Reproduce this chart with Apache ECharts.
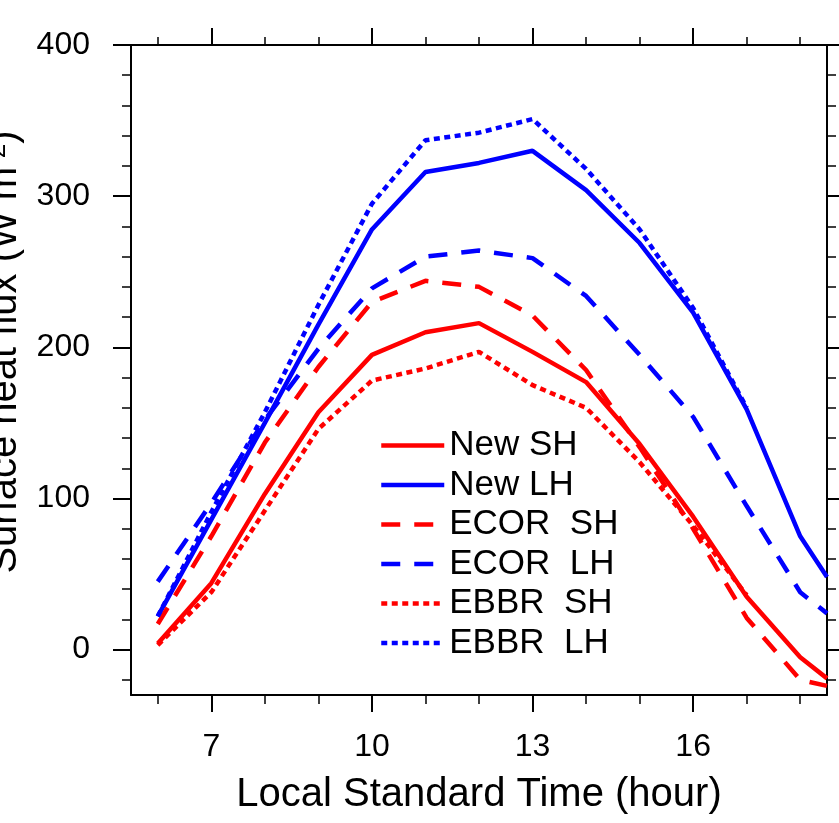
<!DOCTYPE html>
<html>
<head>
<meta charset="utf-8">
<script src="https://cdn.jsdelivr.net/npm/echarts@6/dist/echarts.min.js"></script>
<style>
  html, body { margin: 0; padding: 0; background: #fff; }
  #main { width: 839px; height: 823px; }
</style>
</head>
<body>
<div id="main"></div>
<script>
// hours of the day (last point is where the curves leave the frame)
var hours = [6, 7, 8, 9, 10, 11, 12, 13, 14, 15, 16, 17, 18, 18.5];
var hoursEbbr = [6, 7, 8, 9, 10, 11, 12, 13, 14, 15, 16, 17];

var newSH = [4, 44, 103, 157, 195, 210, 216, 197, 177, 136, 88, 35, -5, -19];
var newLH = [22, 86, 150, 215, 278, 316, 322, 330, 304, 269, 223, 159, 75, 48];
var ecorSH = [17, 75, 137, 187, 230, 244, 240, 221, 185, 134, 80, 21, -20, -24];
var ecorLH = [45, 97, 152, 199, 239, 260, 264, 259, 234, 195, 154, 95, 38, 24];
var ebbrSH = [3, 38, 92, 146, 178, 186, 197, 175, 160, 124, 82, 36];
var ebbrLH = [22, 91, 157, 228, 295, 337, 342, 351, 318, 278, 226, 160];

// tick labels
var xMajor = [7, 10, 13, 16];
var xMinor = [6, 8, 9, 11, 12, 14, 15, 17, 18];
var yMajor = [0, 100, 200, 300, 400];
var yMinor = [-20, 20, 40, 60, 80, 120, 140, 160, 180, 220, 240, 260, 280, 320, 340, 360, 380];

var FONT = 'Liberation Sans';

function pairs(xs, ys) {
  return xs.map(function (x, i) { return [x, ys[i]]; });
}

function xAx(pos, ticks, len, isMain) {
  return {
    type: 'value', position: pos, min: 5.5, max: 18.5,
    axisLine: { show: isMain, onZero: false, lineStyle: { color: '#000', width: 2 } },
    axisTick: { show: true, customValues: ticks, length: len, lineStyle: { color: '#000', width: isMain ? 2 : 1.5 } },
    axisLabel: { show: false },
    splitLine: { show: false }
  };
}

function yAx(pos, ticks, len, isMain) {
  return {
    type: 'value', position: pos, min: -30, max: 400,
    axisLine: { show: isMain, onZero: false, lineStyle: { color: '#000', width: 2 } },
    axisTick: { show: true, customValues: ticks, length: len, lineStyle: { color: '#000', width: isMain ? 2 : 1.5 } },
    axisLabel: { show: false },
    splitLine: { show: false }
  };
}

var xBottom = xAx('bottom', xMajor, 17, true);
xBottom.axisLabel = {
  show: true, customValues: xMajor, margin: 36,
  fontFamily: FONT, fontSize: 32, color: '#000'
};
xBottom.name = 'Local Standard Time (hour)';
xBottom.nameLocation = 'middle';
xBottom.nameGap = 80;
xBottom.nameTextStyle = { fontFamily: FONT, fontSize: 40, color: '#000' };

var yLeft = yAx('left', yMajor, 18, true);
yLeft.axisLabel = {
  show: true, customValues: yMajor, margin: 41,
  fontFamily: FONT, fontSize: 32, color: '#000'
};
yLeft.name = 'Surface heat flux (W m{sup|-2})';
yLeft.nameLocation = 'middle';
yLeft.nameRotate = 90;
yLeft.nameGap = 106;
yLeft.nameTextStyle = {
  fontFamily: FONT, fontSize: 40, color: '#000',
  padding: [0, 0, 0, 36],
  rich: { sup: { fontFamily: FONT, fontSize: 26, verticalAlign: 'top', color: '#000' } }
};

function line(name, xs, ys, color, type) {
  var dash = type === 'dashed' ? [19, 14] : (type === 'dotted' ? [6, 4.5] : 'solid');
  return {
    name: name, type: 'line', xAxisIndex: 0, yAxisIndex: 0,
    data: pairs(xs, ys), symbol: 'none', clip: true,
    lineStyle: { color: color, width: 4.5, type: dash },
    itemStyle: { color: color }
  };
}

var myChart = echarts.init(document.getElementById('main'));
var option = {
  animation: false,
  backgroundColor: '#fff',
  grid: { left: 131, right: 12, top: 45, bottom: 128, containLabel: false, outerBoundsMode: 'none' },
  legend: {
    orient: 'vertical', left: 379, top: 428, padding: 0,
    itemWidth: 63, itemHeight: 14, itemGap: 4.5,
    itemStyle: { opacity: 0 },
    lineStyle: { width: 4.5 },
    textStyle: { fontFamily: FONT, fontSize: 35, color: '#000' },
    data: ['New SH', 'New LH', 'ECOR  SH', 'ECOR  LH', 'EBBR  SH', 'EBBR  LH']
  },
  xAxis: [
    xBottom,
    xAx('bottom', xMinor, 9, false),
    xAx('top', xMajor, 17, true),
    xAx('top', xMinor, 8, false)
  ],
  yAxis: [
    yLeft,
    yAx('left', yMinor, 9, false),
    yAx('right', yMajor, 18, true),
    yAx('right', yMinor, 9, false)
  ],
  series: [
    line('New SH', hours, newSH, '#ff0000', 'solid'),
    line('New LH', hours, newLH, '#0000ff', 'solid'),
    line('ECOR  SH', hours, ecorSH, '#ff0000', 'dashed'),
    line('ECOR  LH', hours, ecorLH, '#0000ff', 'dashed'),
    line('EBBR  SH', hoursEbbr, ebbrSH, '#ff0000', 'dotted'),
    line('EBBR  LH', hoursEbbr, ebbrLH, '#0000ff', 'dotted')
  ]
};
myChart.setOption(option);
</script>
</body>
</html>
